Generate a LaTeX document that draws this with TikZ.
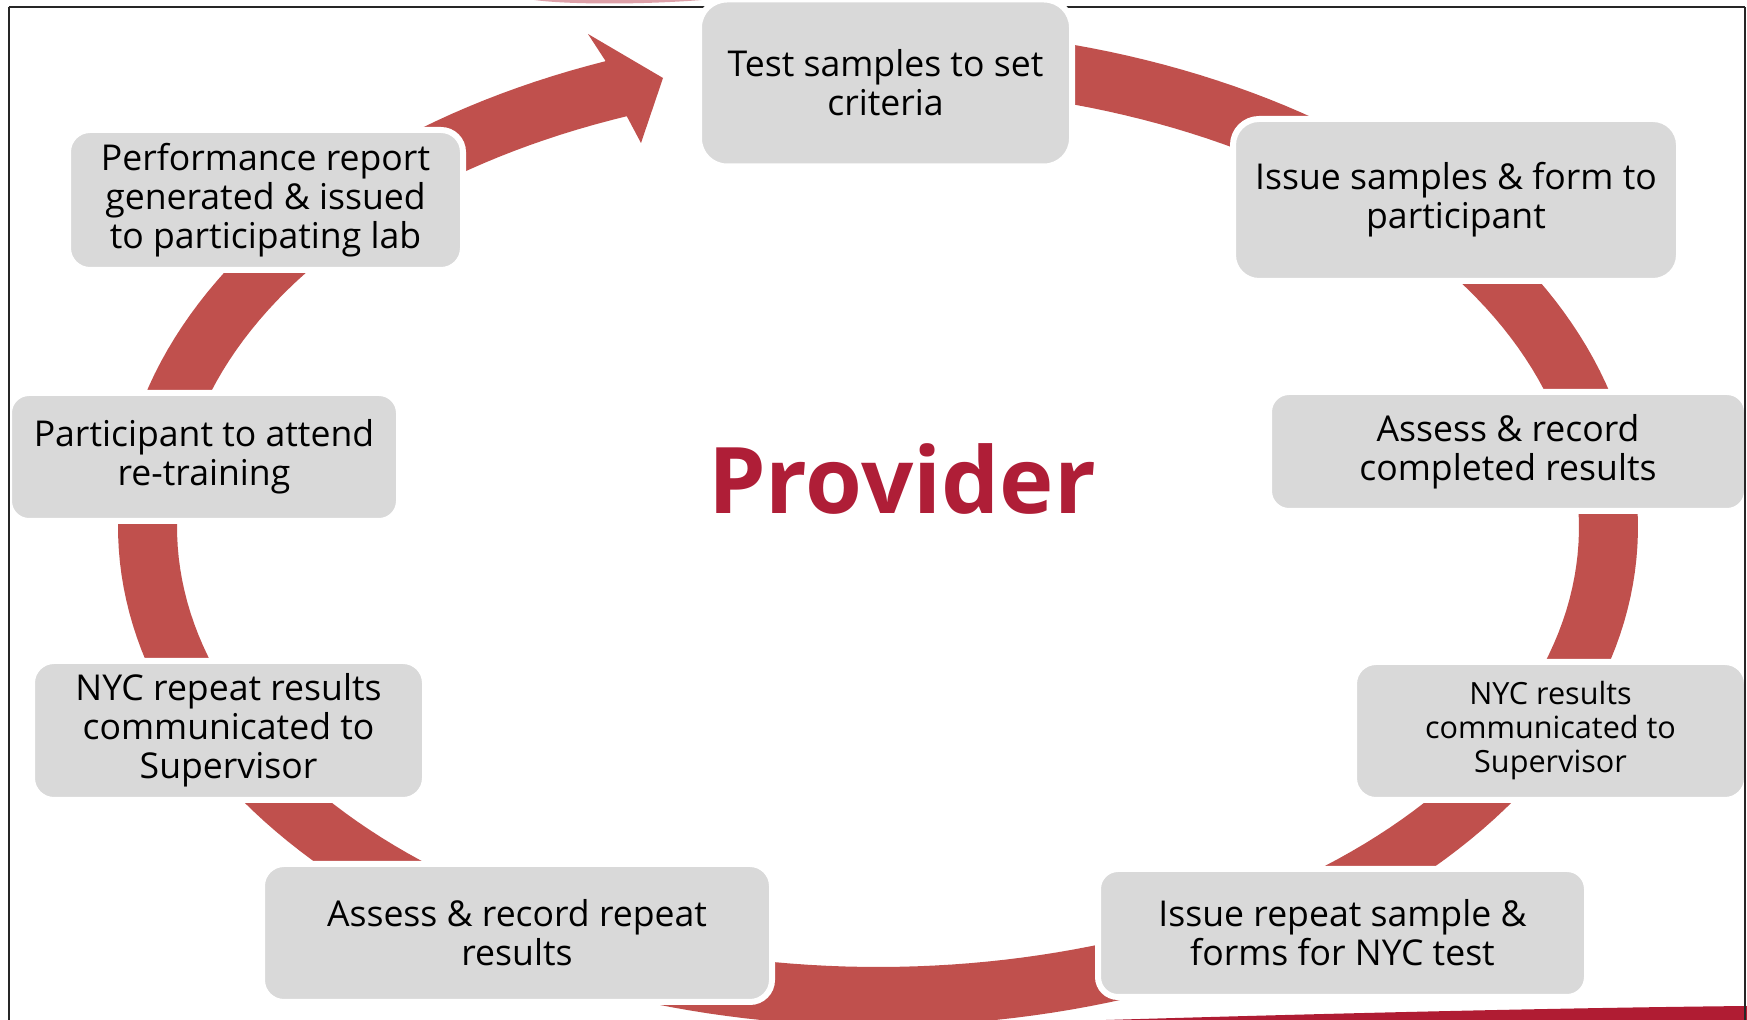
\documentclass[tikz,border=0pt]{standalone}
\usepackage{fontspec}
\setmainfont{Open Sans}
\definecolor{ringred}{HTML}{C0504D}
\definecolor{boxgray}{HTML}{D9D9D9}
\definecolor{provred}{HTML}{AF1E37}
\definecolor{swooshred}{HTML}{B01C33}
\definecolor{smudge}{HTML}{DDA0A8}
\newcommand{\bxfont}{\fontsize{17.8pt}{19.5pt}\selectfont}
\newcommand{\bxsmall}{\fontsize{15.3pt}{17pt}\selectfont}
\begin{document}
\begin{tikzpicture}[x=0.5pt,y=-0.5pt,
  stepbox/.style={draw=white, line width=3pt, fill=boxgray, align=center,
    inner sep=0pt, font=\bxfont, text=black},
  provtext/.style={font=\fontsize{46pt}{50pt}\selectfont\bfseries, text=provred, inner sep=0pt},
  frameline/.style={line width=1pt, black!85}
]
\useasboundingbox (0,0) rectangle (1747,1020);
\clip (0,0) rectangle (1747,1020);
\fill[white] (0,0) rectangle (1747,1020);
% frame top
\draw[frameline] (8.5,7.5) -- (1745,7.5);
% background swooshes
\fill[swooshred] (1040,1022) .. controls (1300,1014) and (1550,1008) .. (1747,1006) -- (1747,1022) -- cycle;
\fill[smudge] (528,-1) .. controls (560,5) and (650,5) .. (713,-1) -- cycle;
% ring arrow
\fill[ringred] plot[domain=100:-249, samples=240] ({878+760*cos(\x)},{527-499*sin(\x)})
  -- (588,34) -- (663,78) -- (641,143)
  -- plot[domain=-249:100, samples=240] ({878+701*cos(\x)},{527-440*sin(\x)}) -- cycle;
% boxes
\node[stepbox, minimum width=186.5pt, minimum height=83.5pt, rounded corners=14pt] (b1) at (885.5,83) {Test samples to set\\criteria};
\node[stepbox, minimum width=223pt, minimum height=81pt, rounded corners=13pt] (b2) at (1456,200) {Issue samples \& form to\\participant};
\node[stepbox, minimum width=239pt, minimum height=59.5pt, rounded corners=10pt] (b3) at (1508,451.5) {Assess \& record\\completed results};
\node[stepbox, font=\bxsmall, minimum width=196.5pt, minimum height=69pt, rounded corners=11pt] (b4) at (1550.5,731) {NYC results\\communicated to\\Supervisor};
\node[stepbox, minimum width=244.5pt, minimum height=64pt, rounded corners=10pt] (b5) at (1342.5,933) {Issue repeat sample \&\\forms for NYC test};
\node[stepbox, minimum width=255pt, minimum height=69pt, rounded corners=11pt] (b6) at (517,933) {Assess \& record repeat\\results};
\node[stepbox, minimum width=196.5pt, minimum height=69.5pt, rounded corners=11pt] (b7) at (228.5,730.5) {NYC repeat results\\communicated to\\Supervisor};
\node[stepbox, minimum width=195pt, minimum height=64pt, rounded corners=10pt] (b8) at (204,457) {Participant to attend\\re-training};
\node[stepbox, minimum width=197.5pt, minimum height=70pt, rounded corners=11pt] (b9) at (265.5,200) {Performance report\\generated \& issued\\to participating lab};
% frame sides
\draw[frameline] (8.5,1022) -- (8.5,7.5);
\draw[frameline] (1745,7.5) -- (1745,1022);
% centre label
\node[provtext, anchor=base] (prov) at (902,514) {Provider};
\end{tikzpicture}
\end{document}
